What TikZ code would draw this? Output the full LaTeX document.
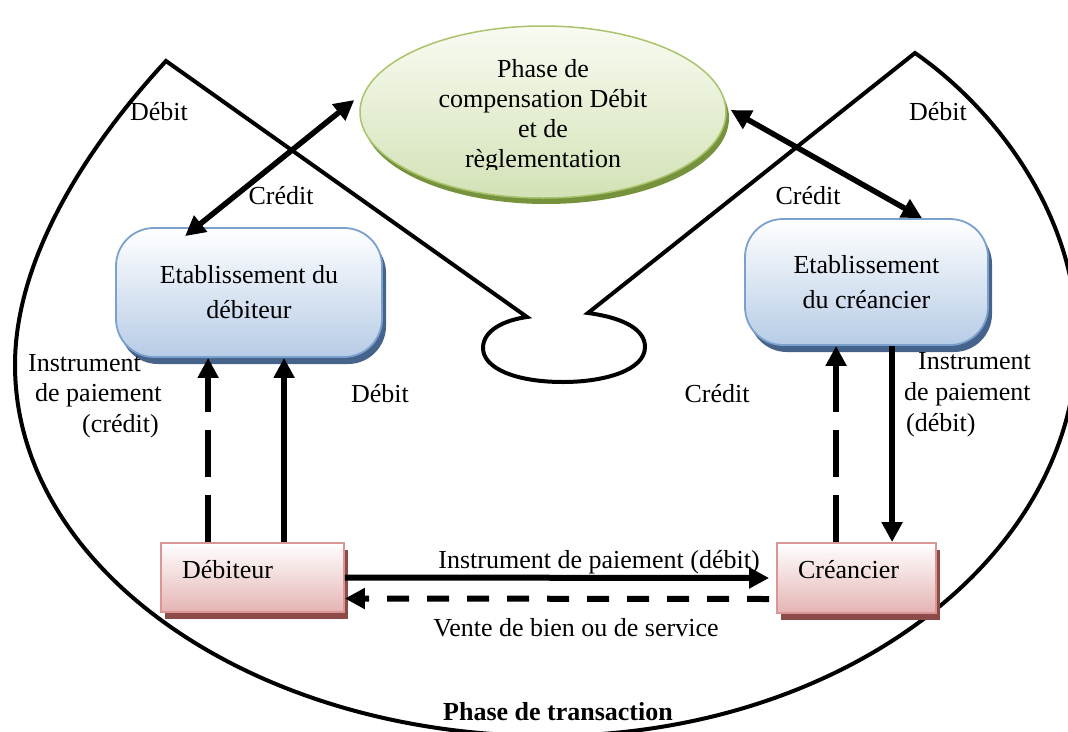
\documentclass[tikz,border=0pt]{standalone}
\usepackage{fontspec}
\setmainfont{Liberation Serif}
\usetikzlibrary{arrows.meta,shapes.geometric,shadows,calc}
\definecolor{phborder}{HTML}{A9C46C}
\definecolor{phtop}{HTML}{F8FBF1}
\definecolor{phbot}{HTML}{D3E2B6}
\definecolor{phshadow}{HTML}{76923C}
\definecolor{etborder}{HTML}{7BA0CD}
\definecolor{etbot}{HTML}{B7CCE6}
\definecolor{etshadow}{HTML}{46638C}
\definecolor{acborder}{HTML}{D99694}
\definecolor{acbot}{HTML}{E4B4B3}
\definecolor{acshadow}{HTML}{8C4B49}
\begin{document}
\begin{tikzpicture}[x=1pt,y=-1pt,
  lbl/.style={font=\fontsize{26}{30}\selectfont, inner sep=0pt},
  phase/.style={ellipse, draw=phborder, line width=1.5pt, top color=phtop, bottom color=phbot,
    minimum width=366pt, minimum height=172pt, inner sep=0pt,
    general shadow={fill=phshadow, shadow xshift=3pt, shadow yshift=-6pt}},
  etab/.style={rectangle, rounded corners=38pt, draw=etborder, line width=1.8pt,
    top color=white, bottom color=etbot, align=center, inner sep=0pt,
    font=\fontsize{26}{35}\selectfont,
    general shadow={fill=etshadow, shadow xshift=4pt, shadow yshift=-7pt}},
  actor/.style={rectangle, draw=acborder, line width=1.8pt, top color=white, bottom color=acbot,
    align=left, inner xsep=21pt, inner ysep=0pt, text height=18pt, text depth=17pt,
    font=\fontsize{26}{30}\selectfont,
    general shadow={fill=acshadow, shadow xshift=4pt, shadow yshift=-7pt}},
  outerline/.style={line width=4pt, line join=miter},
  tipA/.tip={Triangle[length=20pt,width=20pt]},
  arr/.style={line width=6pt, -tipA},
  darr/.style={line width=5.5pt, tipA-tipA},
  dashv/.style={dash pattern=on 47pt off 18pt},
  dashh/.style={dash pattern=on 22pt off 18pt}]
\useasboundingbox (0,0) rectangle (1068,731);
\fill[white] (0,0) rectangle (1068,731);

% outer shape
\begin{scope}
\clip (0,0) rectangle (1068,731);
\draw[outerline] (166,61) .. controls (91,142) and (15,255) .. (15,365)
  .. controls (15,570) and (254,736) .. (548,736)
  .. controls (840,736) and (1077,559) .. (1077,340)
  .. controls (1077,210) and (990,105) .. (915,53)
  -- (588,313) .. controls (625,318) and (645,330) .. (645,347)
  .. controls (645,370) and (605,382) .. (563,382)
  .. controls (515,382) and (483,368) .. (483,348)
  .. controls (483,330) and (505,320) .. (527,317) -- cycle;
\end{scope}

% nodes
\node[phase] (ph) at (543,112) {};
\begin{scope}
\clip (300,0) rectangle (800,169);
\node[lbl, align=center] (phtxt) at (543,116.4) {Phase de\\compensation Débit\\et de\\règlementation};
\end{scope}

\node[etab, minimum width=266pt, minimum height=129pt] (b1) at (249,292.5) {Etablissement du\\débiteur};
\node[etab, minimum width=243pt, minimum height=126pt] (b2) at (866.5,282) {Etablissement\\du créancier};

\node[actor, minimum width=183pt, minimum height=69pt, text width=141pt] (deb) at (252.5,577.5) {Débiteur};
\node[actor, minimum width=159pt, minimum height=70pt, text width=117pt] (cre) at (856.5,578) {Créancier};

% connectors
\draw[darr] ($(b1.north west)+(70,9)$) -- ($(ph.west)+(-5,-12)$);
\draw[darr] ($(ph.east)+(4,-2)$) -- ($(b2.north)+(55.5,0)$);

\coordinate (d1) at ($(deb.north west)+(48,0)$);
\coordinate (d2) at ($(deb.north west)+(124,0)$);
\draw[arr, dashv] (d1) -- (d1 |- b1.south);
\draw[arr] (d2) -- (d2 |- b1.south);

\coordinate (c1) at ($(cre.north west)+(60,0)$);
\coordinate (c2) at ($(cre.north west)+(116,0)$);
\draw[arr, dashv] (c1) -- (c1 |- b2.south);
\draw[arr] (c2 |- b2.south) -- (c2);

\draw[arr] (deb.east) -- ([xshift=-7pt]cre.west);
\draw[arr, dashh] ([xshift=-7pt,yshift=-21pt]cre.west) -- ([yshift=-21pt]deb.east);

% labels
\node[lbl, anchor=base] (dl1) at (159,120) {Débit};
\node[lbl, anchor=base] (cl1) at (281,204) {Crédit};
\node[lbl, anchor=base] (dr1) at (938,120) {Débit};
\node[lbl, anchor=base] (cr1) at (808,204) {Crédit};
\node[lbl, anchor=base] (dl2) at (380,402) {Débit};
\node[lbl, anchor=base] (cr2) at (717,402) {Crédit};
\node[lbl, anchor=west, align=left, font=\fontsize{26}{30.5}\selectfont] (ipc) at (28,396)
  {Instrument\\\hspace*{7pt}de paiement\\\hspace*{54pt}(crédit)};
\node[lbl, anchor=west, align=left, font=\fontsize{26}{31}\selectfont] (ipd) at (904,394.3)
  {\hspace*{14pt}Instrument\\de paiement\\\hspace*{2pt}(débit)};
\node[lbl, anchor=base] (ipx) at (599,568) {Instrument de paiement (débit)};
\node[lbl, anchor=base] (vte) at (576,636) {Vente de bien ou de service};
\node[lbl, anchor=base, font=\bfseries\fontsize{26}{30}\selectfont] (ptr) at (558,720) {Phase de transaction};
\end{tikzpicture}
\end{document}
